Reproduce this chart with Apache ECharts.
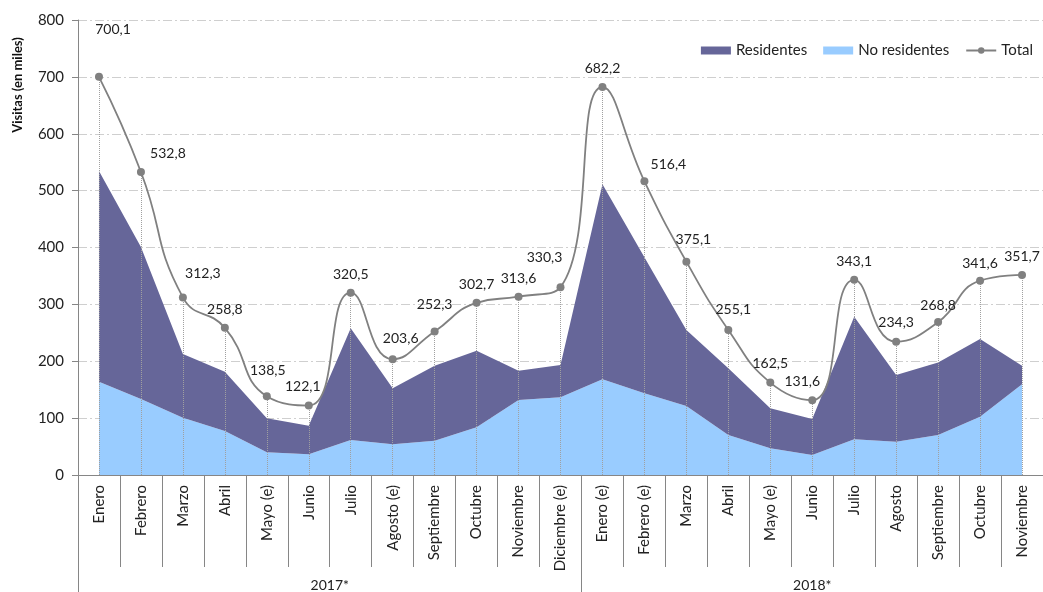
<!DOCTYPE html>
<html>
<head>
<meta charset="utf-8">
<script src="https://cdn.jsdelivr.net/npm/echarts@6/dist/echarts.min.js"></script>
<style>
html,body{margin:0;padding:0;background:#fff;}
#chart{width:1043px;height:592px;}
</style>
</head>
<body>
<div id="chart"></div>
<script>
// ---- data ----
const months = ['Enero','Febrero','Marzo','Abril','Mayo (e)','Junio','Julio','Agosto (e)','Septiembre','Octubre','Noviembre','Diciembre (e)',
                'Enero (e)','Febrero (e)','Marzo','Abril','Mayo (e)','Junio','Julio','Agosto','Septiembre','Octubre','Noviembre'];
const years = ['2017*','2018*'];
const yearSpans = [12, 11];
const noResidentes = [164,133.6,100.8,77.4,39.9,36.3,61.5,54,60.4,83.8,131.9,136.6,
                      168.2,143.6,121.3,70.3,46.9,35.2,62.7,58.6,70.3,102.6,159.4];
const residentes = [370.5,267.4,111.9,104.3,59.8,50.4,196.5,98.4,131.8,134.8,51.5,56.8,
                    342.8,239.4,133.7,117.3,70.3,63.3,215.7,117.2,127.7,136.5,32.8];
const total = [700.1,532.8,312.3,258.8,138.5,122.1,320.5,203.6,252.3,302.7,313.6,330.3,
               682.2,516.4,375.1,255.1,162.5,131.6,343.1,234.3,268.8,341.6,351.7];
const yTicks = {min:0, max:800, interval:100};

// label nudges (x, y) for total labels
const labelNudge = [[14,-29],[27,0],[20,-6],[0,0],[1,-8],[-6,-1],[0,0],[8,-3],[0,-9],[0,0],[0,0],[-16,-12],
                    [0,-1],[24,1],[7,-4],[5,-2],[0,-1],[-10,-1],[0,0],[0,-1],[0,1],[0,1],[0,0]];

// year boundaries / centres
const bounds = [0]; yearSpans.forEach(s => bounds.push(bounds[bounds.length-1] + s));
const centres = yearSpans.map((s,i) => bounds[i] + s/2);

const fmt = v => v.toFixed(1).replace('.', ',');
const FONT = 'Lato, "Open Sans", sans-serif';

const chart = echarts.init(document.getElementById('chart'), null, {renderer:'canvas'});
chart.setOption({
  animation:false,
  textStyle:{fontFamily:FONT},
  grid:{left:78, top:20, width:966, height:455},
  legend:{
    top:38, right:5, itemGap:16, itemWidth:30, itemHeight:8,
    textStyle:{fontSize:15, color:'#222', fontFamily:FONT},
    data:[{name:'Residentes', icon:'rect'},{name:'No residentes', icon:'rect'},{name:'Total'}]
  },
  xAxis:[{
    type:'category', data:months, boundaryGap:true, position:'bottom',
    axisLine:{show:true, lineStyle:{color:'#868686', width:1}},
    axisTick:{show:true, length:92, interval:0, lineStyle:{color:'#868686'}},
    axisLabel:{rotate:90, interval:0, margin:10, fontSize:15, color:'#222', fontFamily:FONT}
  },{
    type:'value', min:0, max:bounds[bounds.length-1], position:'bottom',
    axisLine:{show:false},
    splitLine:{show:false},
    axisTick:{show:true, length:117, customValues:bounds, lineStyle:{color:'#868686'}},
    axisLabel:{show:true, customValues:centres, margin:103, fontSize:14, color:'#222', fontFamily:FONT,
      formatter: v => { const i = centres.indexOf(v); return i >= 0 ? years[i] : ''; }}
  }],
  yAxis:{
    type:'value', min:yTicks.min, max:yTicks.max, interval:yTicks.interval,
    axisLine:{show:true, lineStyle:{color:'#868686'}},
    axisTick:{show:true, length:6, lineStyle:{color:'#868686'}},
    axisLabel:{fontSize:15, color:'#222', margin:14, fontFamily:FONT},
    splitLine:{show:true, lineStyle:{color:'#cfcfcf', type:[9,3,2,3], width:1}}
  },
  graphic:[{
    type:'text', x:18, y:85, rotation:Math.PI/2,
    style:{text:'Visitas (en miles)', font:'bold 13px '+FONT, fill:'#111', textAlign:'center', textVerticalAlign:'middle'}
  }],
  series:[{
    name:'No residentes', type:'line', stack:'s', data:noResidentes,
    symbol:'none', lineStyle:{width:0}, areaStyle:{color:'#99ccff', opacity:1}, itemStyle:{color:'#99ccff'}
  },{
    name:'Residentes', type:'line', stack:'s', data:residentes,
    symbol:'none', lineStyle:{width:0}, areaStyle:{color:'#666699', opacity:1}, itemStyle:{color:'#666699'}
  },{
    name:'Total', type:'line', data:total.map((v,i)=>({value:v, label:{offset:labelNudge[i]}})),
    smooth:0.5, symbol:'circle', symbolSize:8,
    lineStyle:{color:'#808080', width:1.8}, itemStyle:{color:'#808080'},
    label:{show:true, position:'top', distance:7, fontSize:14, color:'#222', fontFamily:FONT,
      formatter: p => fmt(p.value)},
    markLine:{
      silent:true, symbol:'none', label:{show:false},
      lineStyle:{color:'#a0a0a0', type:'dotted', width:1},
      data: total.map((v,i)=>[{coord:[i,0]},{coord:[i,v]}])
    },
    z:5
  }]
});
</script>
</body>
</html>
